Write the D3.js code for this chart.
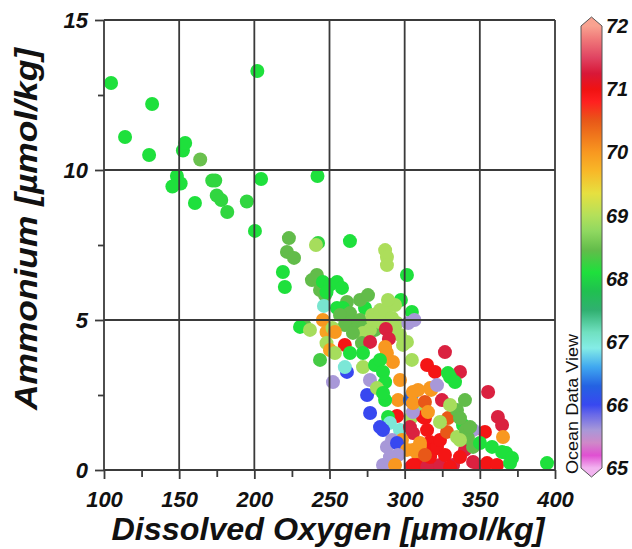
<!DOCTYPE html>
<html>
<head>
<meta charset="utf-8">
<script src="https://cdn.jsdelivr.net/npm/d3@7"></script>
<style>
  body { margin: 0; background: #fff; }
  svg { display: block; }
  text { font-family: Arial, "Liberation Sans", Helvetica, sans-serif; }
</style>
</head>
<body>
<svg id="chart" width="632" height="549"></svg>
<script>
// Axis ticks
const xTicks = [100, 150, 200, 250, 300, 350, 400];
const xMinor = [125, 175, 225, 275, 325, 375];
const yTicks = [0, 5, 10, 15];
const yMinor = [2.5, 7.5, 12.5];
const cbTicks = [65, 66, 67, 68, 69, 70, 71, 72];

// ODV-style colour palette (value -> colour)
const paletteValues = [65.0, 65.2, 65.4, 65.6, 65.85, 66.0, 66.3, 66.6, 66.9, 67.15, 67.5, 67.8,
                       68.1, 68.45, 68.75, 69.0, 69.35, 69.7, 70.0, 70.5, 70.8, 71.0, 71.25, 71.5, 71.8, 72.0];
const paletteColors = ["#f2b4f0", "#e050d2", "#cf88c8", "#a898d8", "#6868e8", "#3848f0", "#2462e2", "#40a8f0",
                       "#84ece6", "#70e0c0", "#30b070", "#20c050", "#1ee03c", "#62bc4a", "#90d860", "#b4e05a",
                       "#e6e040", "#f8b828", "#f89820", "#e85818", "#ff2020", "#f01212", "#d81838", "#e04462",
                       "#f07a7a", "#f8a290"];

// Samples: [dissolved oxygen, ammonium, colour variable]
const stations = [
  [104.7,12.9,68.1],[114.0,11.1,68.1],[132.0,12.2,68.1],[130.0,10.5,68.1],[152.5,10.65,68.1],
  [154.0,10.9,68.1],[164.0,10.35,68.5],[148.5,9.8,68.1],[151.0,9.55,68.1],[145.5,9.45,68.1],
  [160.5,8.9,68.1],[172.0,9.65,68.2],[174.0,9.65,68.2],[175.0,9.15,68.2],[178.0,9.0,68.2],
  [182.0,8.6,68.2],[195.0,8.95,68.2],[202.0,13.3,68.1],[204.5,9.7,68.1],[242.0,9.8,68.1],
  [200.4,7.97,68.1],[223.0,7.73,68.45],[221.7,7.27,68.45],[226.4,7.07,68.45],[219.0,6.6,68.1],
  [220.3,6.1,68.1],[242.4,7.57,68.2],[241.0,7.5,68.9],[263.6,7.63,68.1],[287.0,7.33,68.95],
  [288.2,7.1,68.95],[288.2,6.83,68.95],[301.5,6.5,68.1],[241.6,6.5,68.45],[238.3,6.33,68.45],
  [243.7,6.0,68.45],[245.6,6.27,68.1],[250.3,6.17,68.1],[255.0,6.27,68.1],[258.3,6.07,68.1],
  [247.0,5.83,68.45],[248.0,5.93,68.1],[246.3,5.47,67.05],[255.0,5.4,68.1],[261.6,5.6,68.45],
  [259.0,5.4,68.1],[273.6,5.4,68.1],[297.5,5.67,68.1],[304.8,5.27,68.1],[263.6,5.23,68.45],
  [270.3,5.0,68.45],[270.3,5.67,68.45],[275.6,5.83,68.45],[257.0,5.17,68.45],[263.6,4.93,68.45],
  [260.3,4.83,68.45],[267.0,4.67,68.45],[273.6,4.83,68.45],[280.3,4.67,68.45],
  [278.3,5.17,68.9],[283.6,5.33,68.9],[288.9,5.1,68.9],[294.8,4.9,68.9],[286.9,5.33,68.9],
  [293.6,5.5,68.9],[288.9,5.67,68.9],[291.6,5.07,68.9],[283.6,4.93,68.9],[276.9,4.67,68.9],
  [293.6,4.6,68.9],[279.0,5.0,68.9],[272.3,4.57,68.9],[296.9,4.5,68.9],[301.5,4.27,68.9],
  [302.4,4.9,65.6],[306.5,5.0,65.6],[245.6,5.0,70.0],[233.6,4.8,68.45],[230.4,4.77,68.1],
  [237.0,4.67,68.9],[248.0,4.6,69.9],[252.0,4.73,68.9],[253.6,4.6,70.0],[248.0,4.23,68.9],
  [250.3,4.0,69.9],[265.6,4.57,68.45],[271.6,4.23,68.45],[287.5,4.7,71.3],[289.5,4.37,71.3],
  [277.0,4.27,71.3],[260.2,4.17,70.95],[287.0,4.1,70.0],[298.9,4.17,68.9],[253.6,3.9,68.9],
  [263.6,3.9,68.1],[272.3,3.9,68.1],[288.2,3.9,70.0],[292.2,3.6,70.0],[304.8,3.67,68.9],
  [314.9,3.5,70.95],[320.2,3.27,70.95],[326.8,3.93,71.3],[336.8,3.27,71.3],[328.8,3.23,68.1],
  [330.2,3.1,68.1],[333.5,2.93,68.1],[243.7,3.67,68.3],[261.6,3.27,66.0],[260.2,3.43,67.0],
  [272.3,3.43,68.9],[252.3,2.93,65.6],[276.9,3.0,65.6],[275.0,2.5,66.0],[277.0,1.9,66.0],
  [280.3,3.5,68.1],[283.6,3.67,68.1],[285.6,3.27,68.1],[287.0,2.93,68.1],[281.6,2.73,68.9],
  [296.9,3.0,70.0],[295.6,2.33,70.0],[304.8,2.5,66.5],[303.5,2.33,66.3],[308.9,2.67,70.0],
  [316.9,2.73,70.0],[305.5,2.6,70.0],[317.6,2.67,70.0],[321.5,2.83,65.6],[324.8,2.33,71.3],
  [287.0,2.33,68.1],[285.6,2.57,68.1],[306.8,1.93,68.9],[309.5,2.0,68.9],[304.2,1.73,68.9],
  [294.9,1.8,70.95],[288.9,1.77,68.1],[290.2,1.57,67.0],[313.5,1.73,70.95],[312.2,1.77,70.95],
  [305.5,1.93,65.6],[283.6,1.43,66.0],[285.6,1.33,66.0],[296.9,1.33,67.0],[305.5,1.23,71.3],
  [303.5,1.43,71.3],[314.9,1.33,70.95],[316.9,0.93,70.95],[298.2,1.0,70.0],[288.2,0.77,65.6],
  [291.6,1.0,65.6],[294.9,0.9,66.0],[310.2,0.9,70.0],[305.5,0.67,70.0],[301.5,0.67,70.0],
  [310.2,0.77,70.0],[295.6,0.5,65.6],[290.2,0.43,65.6],[308.9,0.5,70.0],[285.6,0.17,65.6],
  [293.6,0.17,70.0],[304.2,0.1,71.3],[308.2,0.17,70.95],[316.9,0.17,70.95],[305.5,0.17,70.95],
  [314.9,0.1,71.3],[323.5,0.17,71.3],[332.2,0.17,71.3],[316.9,0.43,70.95],[318.9,0.67,70.95],
  [321.5,0.77,70.95],[323.5,1.0,70.95],[313.5,0.5,70.5],[326.8,0.5,70.95],[340.1,0.67,71.3],
  [330.2,0.1,70.95],[350.1,0.1,71.3],[336.8,0.43,70.95],[345.5,0.27,71.3],[354.8,0.23,70.95],
  [361.4,0.17,70.95],[355.5,2.6,71.3],[362.0,1.77,71.3],[364.8,1.5,71.3],[353.4,1.27,70.95],
  [365.4,1.1,70.0],[338.8,1.5,68.1],[328.8,1.73,70.5],[328.2,1.27,70.5],[345.5,1.33,65.6],
  [334.8,1.1,68.9],[342.1,1.07,68.45],[345.5,0.77,68.45],[350.1,0.9,68.1],[358.1,0.77,68.1],
  [364.8,0.6,68.1],[367.5,0.57,68.1],[371.4,0.4,68.1],[370.1,0.23,68.1],[394.7,0.23,68.1],
  [334.8,2.0,68.45],[340.1,2.33,68.45],[330.2,2.17,68.9],[336.8,1.73,68.45],[340.8,1.33,68.45],
  [343.5,1.43,68.45],[323.5,1.6,68.9],[336.8,1.0,68.9],[305.5,2.23,70.0],[313.5,2.27,70.5],
  [315.5,1.93,70.0]
];

const svg = d3.select("#chart");
const plot = { left: 104, right: 555, top: 20, bottom: 470 };

const x = d3.scaleLinear().domain([100, 400]).range([plot.left, plot.right]);
const y = d3.scaleLinear().domain([0, 15]).range([plot.bottom, plot.top]);
const color = d3.scaleLinear().domain(paletteValues).range(paletteColors).clamp(true);

// clip the symbols to the plot frame
svg.append("defs").append("clipPath").attr("id", "plotClip")
  .append("rect")
  .attr("x", plot.left).attr("y", plot.top)
  .attr("width", plot.right - plot.left).attr("height", plot.bottom - plot.top);

// scatter symbols
svg.append("g").attr("clip-path", "url(#plotClip)")
  .selectAll("circle").data(stations).join("circle")
  .attr("cx", d => x(d[0]))
  .attr("cy", d => y(d[1]))
  .attr("r", 7)
  .attr("fill", d => color(d[2]));

// grid lines drawn over the symbols
const grid = svg.append("g").attr("stroke", "#3a3a3a").attr("stroke-width", 1.8);
grid.selectAll("line.v").data(xTicks).join("line").attr("class", "v")
  .attr("x1", d => x(d)).attr("x2", d => x(d))
  .attr("y1", plot.top).attr("y2", plot.bottom);
grid.selectAll("line.h").data(yTicks).join("line").attr("class", "h")
  .attr("y1", d => y(d)).attr("y2", d => y(d))
  .attr("x1", plot.left).attr("x2", plot.right);

function styleAxis(g) {
  g.select(".domain").remove();
  g.selectAll("line").attr("stroke", "#3a3a3a").attr("stroke-width", 1.8);
  g.selectAll("text")
    .attr("fill", "#111")
    .attr("font-size", 22)
    .attr("font-weight", "bold")
    .attr("font-style", "italic");
}

// bottom axis
svg.append("g").attr("transform", `translate(0,${plot.bottom})`)
  .call(d3.axisBottom(x).tickValues(xMinor).tickSize(7).tickFormat(""))
  .call(styleAxis);
svg.append("g").attr("transform", `translate(0,${plot.bottom})`)
  .call(d3.axisBottom(x).tickValues(xTicks).tickSize(9).tickPadding(12).tickFormat(d3.format("d")))
  .call(styleAxis);

// left axis
svg.append("g").attr("transform", `translate(${plot.left},0)`)
  .call(d3.axisLeft(y).tickValues(yMinor).tickSize(6).tickFormat(""))
  .call(styleAxis);
svg.append("g").attr("transform", `translate(${plot.left},0)`)
  .call(d3.axisLeft(y).tickValues(yTicks).tickSize(9).tickPadding(7).tickFormat(d3.format("d")))
  .call(styleAxis);

// axis titles
svg.append("text")
  .attr("x", 328).attr("y", 540)
  .attr("text-anchor", "middle")
  .attr("font-size", 31).attr("font-weight", "bold").attr("font-style", "italic")
  .attr("fill", "#111")
  .attr("textLength", 433).attr("lengthAdjust", "spacingAndGlyphs")
  .text("Dissolved Oxygen [µmol/kg]");

svg.append("text")
  .attr("transform", "translate(37,229) rotate(-90)")
  .attr("text-anchor", "middle")
  .attr("font-size", 31).attr("font-weight", "bold").attr("font-style", "italic")
  .attr("fill", "#111")
  .attr("textLength", 362).attr("lengthAdjust", "spacingAndGlyphs")
  .text("Ammonium [µmol/kg]");

// colour bar
const cb = d3.scaleLinear().domain([65, 72]).range([468, 26]);
const cbX0 = 581, cbX1 = 602, cbMid = (cbX0 + cbX1) / 2, tip = 9;

const grad = svg.select("defs").append("linearGradient")
  .attr("id", "cbGrad").attr("gradientUnits", "userSpaceOnUse")
  .attr("x1", 0).attr("x2", 0).attr("y1", cb(65)).attr("y2", cb(72));
grad.selectAll("stop").data(paletteValues).join("stop")
  .attr("offset", d => (d - 65) / 7)
  .attr("stop-color", d => color(d));

svg.append("rect")
  .attr("x", cbX0).attr("y", cb(72))
  .attr("width", cbX1 - cbX0).attr("height", cb(65) - cb(72))
  .attr("fill", "url(#cbGrad)");
svg.append("path")
  .attr("d", `M${cbX0},${cb(72)} L${cbMid},${cb(72) - tip} L${cbX1},${cb(72)} Z`)
  .attr("fill", color(72));
svg.append("path")
  .attr("d", `M${cbX0},${cb(65)} L${cbMid},${cb(65) + tip} L${cbX1},${cb(65)} Z`)
  .attr("fill", color(65));
svg.append("path")
  .attr("d", `M${cbX0},${cb(72)} L${cbMid},${cb(72) - tip} L${cbX1},${cb(72)} L${cbX1},${cb(65)} L${cbMid},${cb(65) + tip} L${cbX0},${cb(65)} Z`)
  .attr("fill", "none").attr("stroke", "#555").attr("stroke-width", 1);

svg.append("g").selectAll("text").data(cbTicks).join("text")
  .attr("x", 606).attr("y", d => cb(d)).attr("dy", "0.36em")
  .attr("font-size", 20).attr("font-weight", "bold").attr("font-style", "italic")
  .attr("fill", "#111")
  .text(d => d);

svg.append("text")
  .attr("transform", "translate(578,404) rotate(-90)")
  .attr("text-anchor", "middle")
  .attr("font-size", 17).attr("fill", "#111")
  .attr("textLength", 140).attr("lengthAdjust", "spacingAndGlyphs")
  .text("Ocean Data View");
</script>
</body>
</html>
